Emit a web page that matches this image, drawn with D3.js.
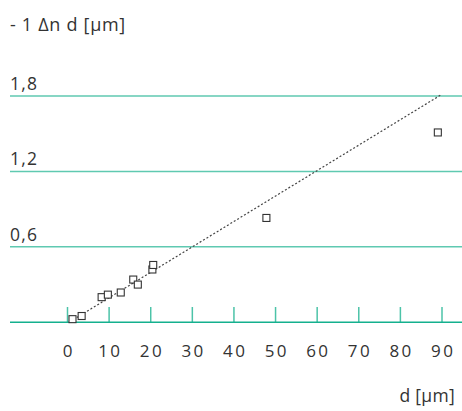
<!DOCTYPE html>
<html><head><meta charset="utf-8">
<script src="https://cdn.jsdelivr.net/npm/d3@7"></script>
<style>body{margin:0;background:#fff}text{font-family:"Open Sans",sans-serif;fill:#333}</style>
</head><body><svg id="c" width="462" height="411"></svg>
<script>
const xTicks = [0,10,20,30,40,50,60,70,80,90];
const yTicks = [0.6,1.2,1.8];
const yTickLabels = ["0,6","1,2","1,8"];
const pointsX = [1.2,3.4,8.2,9.7,12.8,15.8,16.9,20.4,20.6,47.8,89.0];
const pointsY = [0.025,0.05,0.2,0.22,0.237,0.34,0.30,0.42,0.456,0.83,1.51];
const fitX = [0.6,89.8];
const fitY = [0.005,1.81];

const svg = d3.select("#c");
const x = d3.scaleLinear().domain([0,90]).range([67.5,442]);
const y = d3.scaleLinear().domain([0,1.8]).range([322.3,96]);
const ls = 2.4;

// gridlines
svg.selectAll("line.grid").data(yTicks).join("line")
  .attr("x1",10).attr("x2",462)
  .attr("y1",d=>y(d)).attr("y2",d=>y(d))
  .attr("stroke","#5fc9b1").attr("stroke-width",1.5);
svg.selectAll("text.yl").data(yTicks).join("text")
  .attr("x",10).attr("y",d=>y(d)-6)
  .attr("font-size",17.5).attr("letter-spacing",1.2).text((d,i)=>yTickLabels[i]);

// x ticks
svg.selectAll("line.xt").data(xTicks).join("line")
  .attr("x1",d=>x(d)).attr("x2",d=>x(d))
  .attr("y1",307).attr("y2",322)
  .attr("stroke","#4cc3a8").attr("stroke-width",1.5);
svg.append("line").attr("x1",10).attr("x2",462).attr("y1",y(0)).attr("y2",y(0))
  .attr("stroke","#14b08e").attr("stroke-width",1.5);
svg.selectAll("text.xl").data(xTicks).join("text")
  .attr("x",d=>x(d)+ls/2).attr("y",357).attr("text-anchor","middle")
  .attr("font-size",17).attr("letter-spacing",ls).text(d=>d);

// fit line
svg.append("line")
  .attr("x1",x(fitX[0])).attr("y1",y(fitY[0]))
  .attr("x2",x(fitX[1])).attr("y2",y(fitY[1]))
  .attr("stroke","#444").attr("stroke-width",1.2).attr("stroke-dasharray","2,2");

// points
const s = 7;
svg.selectAll("rect.p").data(pointsX).join("rect")
  .attr("x",(d)=>x(d)-s/2).attr("y",(d,i)=>y(pointsY[i])-s/2)
  .attr("width",s).attr("height",s)
  .attr("fill","#fff").attr("stroke","#333").attr("stroke-width",1.1);

svg.append("text").attr("x",10).attr("y",31).attr("font-size",18).attr("letter-spacing",0.7).text("- 1 Δn d [μm]");
svg.append("text").attr("x",455).attr("y",402).attr("text-anchor","end").attr("font-size",17.5).attr("letter-spacing",0.3).text("d [μm]");
</script></body></html>
